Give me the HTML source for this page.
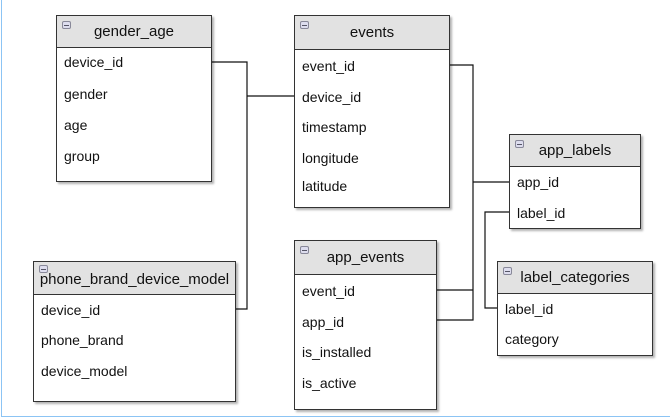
<!DOCTYPE html>
<html><head><meta charset="utf-8"><style>
body{margin:0;width:670px;height:420px;background:#fff;position:relative;overflow:hidden;font-family:"Liberation Sans",sans-serif;color:#111}
.t{position:absolute;border:1px solid #333;background:#fff;box-shadow:2px 2px 2px rgba(0,0,0,.3);box-sizing:border-box}
.h{background:#e2e2e2;border-bottom:1px solid #333;text-align:center;font-size:15px;box-sizing:border-box;position:relative}
.h i{position:absolute;left:5px;top:5px;width:9px;height:8px;border:1px solid #889;border-radius:2px;background:#dde;box-sizing:border-box}
.h i:after{content:"";position:absolute;left:1px;right:1px;top:3px;height:1px;background:#556}
.r{position:absolute;left:7px;font-size:14px}
svg{position:absolute;left:0;top:0}
</style></head><body>
<div style="position:absolute;left:1px;top:0;width:1px;height:417px;background:#8cc4f4"></div>
<div style="position:absolute;left:1px;top:416px;width:669px;height:1px;background:#8cc4f4"></div>
<svg width="670" height="420"><g stroke="#111" stroke-width="1.2" fill="none">
<polyline points="211,62 247,62 247,309 235,309"/>
<line x1="247" y1="96" x2="294" y2="96"/>
<polyline points="450,65 473,65 473,320 437,320"/>
<line x1="437" y1="290" x2="473" y2="290"/>
<line x1="473" y1="182" x2="509" y2="182"/>
<polyline points="509,212 485,212 485,308 497,308"/>
</g></svg>
<div class="t" style="left:56px;top:15px;width:156px;height:167px"><div class="h" style="height:32px;line-height:32px"><i></i>gender_age</div>
<div class="r" style="top:38px">device_id</div><div class="r" style="top:70px">gender</div><div class="r" style="top:101px">age</div><div class="r" style="top:132px">group</div></div>
<div class="t" style="left:294px;top:15px;width:156px;height:193px"><div class="h" style="height:34px;line-height:34px"><i></i>events</div>
<div class="r" style="top:42px">event_id</div><div class="r" style="top:73px">device_id</div><div class="r" style="top:103px">timestamp</div><div class="r" style="top:134px">longitude</div><div class="r" style="top:162px">latitude</div></div>
<div class="t" style="left:509px;top:134px;width:132px;height:95px"><div class="h" style="height:32px;line-height:32px"><i></i>app_labels</div>
<div class="r" style="top:39px">app_id</div><div class="r" style="top:70px">label_id</div></div>
<div class="t" style="left:497px;top:261px;width:156px;height:95px"><div class="h" style="height:32px;line-height:32px"><i></i>label_categories</div>
<div class="r" style="top:39px">label_id</div><div class="r" style="top:69px">category</div></div>
<div class="t" style="left:294px;top:240px;width:143px;height:170px"><div class="h" style="height:34px;line-height:34px"><i></i>app_events</div>
<div class="r" style="top:42px">event_id</div><div class="r" style="top:73px">app_id</div><div class="r" style="top:103px">is_installed</div><div class="r" style="top:134px">is_active</div></div>
<div class="t" style="left:33px;top:261px;width:203px;height:141px"><div class="h" style="height:33px;line-height:36px"><i style="top:3px"></i>phone_brand_device_model</div>
<div class="r" style="top:40px">device_id</div><div class="r" style="top:70px">phone_brand</div><div class="r" style="top:101px">device_model</div></div>
</body></html>
